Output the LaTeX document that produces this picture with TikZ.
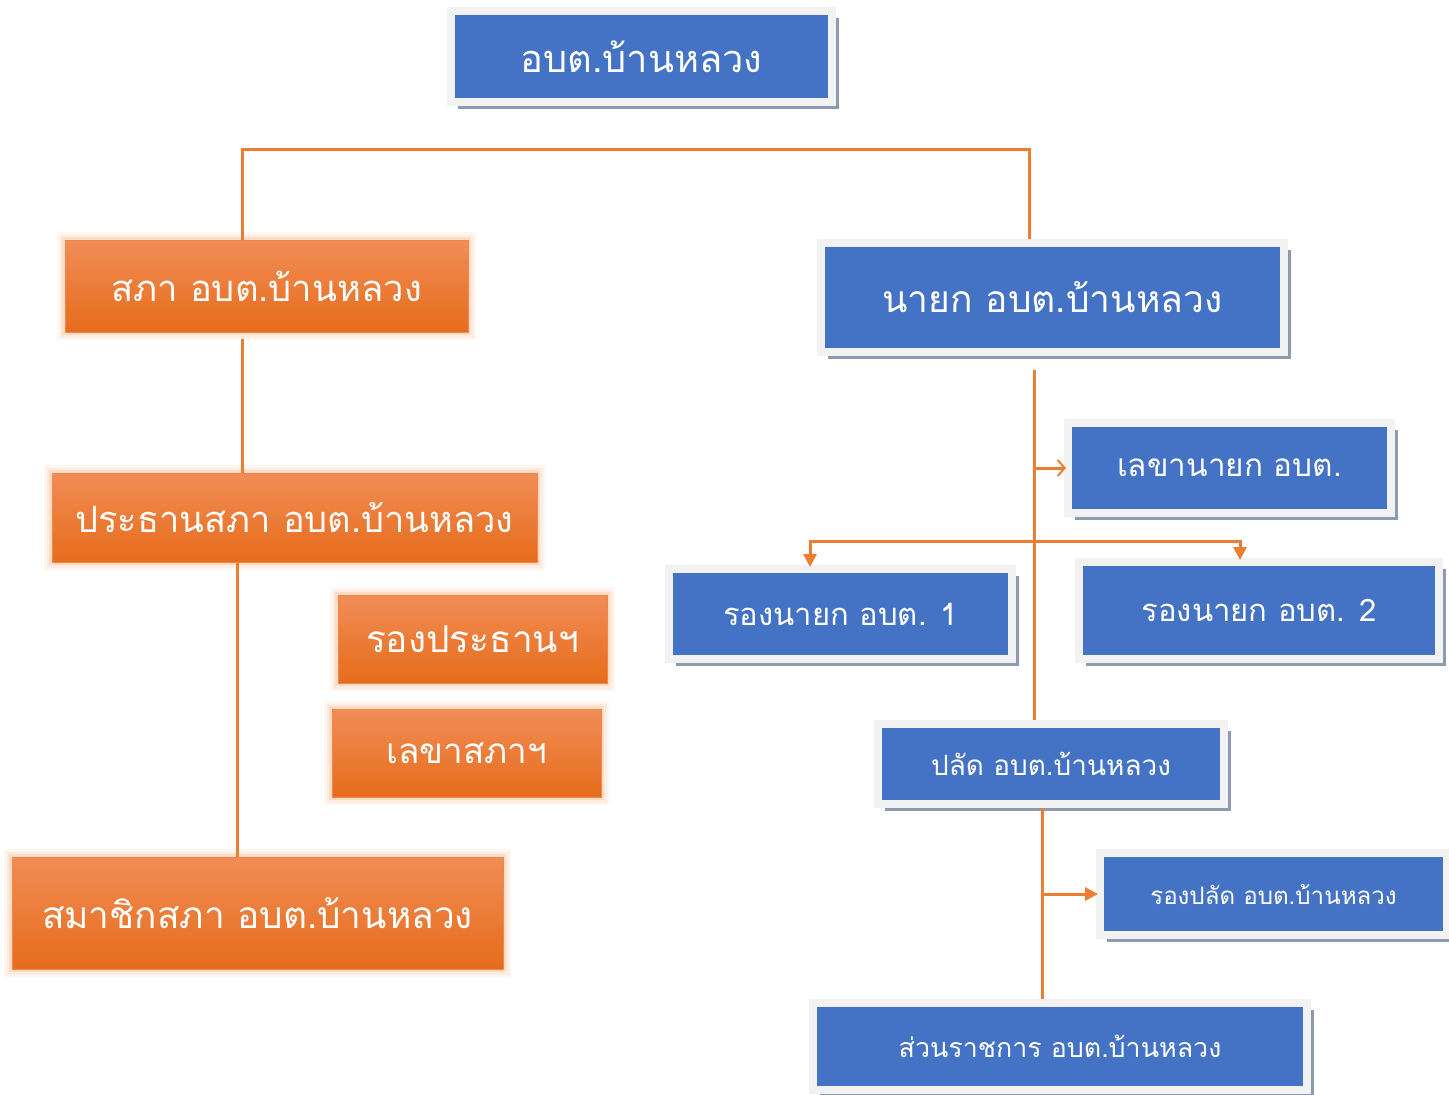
\documentclass[tikz,border=0pt]{standalone}
\usepackage{fontspec}
\newfontfamily\thaifont[Script=Thai]{Loma}
\usetikzlibrary{shadows}
\usetikzlibrary{arrows.meta}

\definecolor{boxblue}{HTML}{4472C4}
\definecolor{framegray}{HTML}{F2F2F2}
\definecolor{shadegray}{HTML}{8E9AAF}
\definecolor{lineorange}{HTML}{ED7D31}
\definecolor{orangetop}{HTML}{F18D56}
\definecolor{orangebot}{HTML}{E66C1B}
\definecolor{glow}{HTML}{F9B98C}

\tikzset{
  bluebox/.style={draw=framegray, line width=8pt, fill=boxblue, text=white,
    drop shadow={shadow xshift=7pt, shadow yshift=-7pt, fill=shadegray, opacity=1},
    inner sep=0pt, font=\thaifont},
  orangebox/.style={draw=orangetop!80!orangebot, line width=1pt,
    top color=orangetop, bottom color=orangebot, text=white,
    preaction={draw=glow, line width=16pt, opacity=0.12},
    preaction={draw=glow, line width=11pt, opacity=0.18},
    preaction={draw=glow, line width=6pt, opacity=0.3},
    inner sep=0pt, font=\thaifont},
  conn/.style={draw=lineorange, line width=3pt},
  tip/.style={-{Triangle[length=13pt,width=13pt]}},
  barb/.style={-{Straight Barb[length=7pt,width=16pt,line width=2pt]}}
}

\begin{document}
\begin{tikzpicture}[x=1pt,y=-1pt]
      \useasboundingbox (0,0) rectangle (1449,1095);

      % top
      \node[bluebox, minimum width=381pt, minimum height=91pt, font=\thaifont\fontsize{38}{40}\selectfont] (obt) at (641.5,56.5) {อบต.บ้านหลวง};

      % council side
      \node[orangebox, minimum width=403pt, minimum height=92pt, font=\thaifont\fontsize{36.4}{38}\selectfont] (sapha) at (266.5,286) {สภา อบต.บ้านหลวง};
      \node[orangebox, minimum width=485pt, minimum height=89pt, font=\thaifont\fontsize{36.2}{38}\selectfont] (prathan) at (294.5,517.5) {ประธานสภา อบต.บ้านหลวง};
      \node[orangebox, minimum width=269pt, minimum height=88pt, font=\thaifont\fontsize{37}{39}\selectfont] (rongprathan) at (472.5,639) {รองประธานฯ};
      \node[orangebox, minimum width=269pt, minimum height=88pt, font=\thaifont\fontsize{35}{37}\selectfont] (lekhasapha) at (466.5,753) {เลขาสภาฯ};
      \node[orangebox, minimum width=491pt, minimum height=112pt, font=\thaifont\fontsize{37}{39}\selectfont] (samachik) at (257.5,913) {สมาชิกสภา อบต.บ้านหลวง};

      % executive side
      \node[bluebox, minimum width=463pt, minimum height=109pt, font=\thaifont\fontsize{37.2}{39}\selectfont] (nayok) at (1052.5,297.5) {นายก อบต.บ้านหลวง};
      \node[bluebox, minimum width=323pt, minimum height=90pt, font=\thaifont\fontsize{31.5}{33}\selectfont] (lekhanayok) at (1229.5,468) {เลขานายก อบต.};
      \node[bluebox, minimum width=343pt, minimum height=90pt, font=\thaifont\fontsize{31}{33}\selectfont] (rong1) at (840.5,614) {รองนายก อบต. 1};
      \node[bluebox, minimum width=360pt, minimum height=97pt, font=\thaifont\fontsize{31}{33}\selectfont] (rong2) at (1259,610.5) {รองนายก อบต. 2};
      \node[bluebox, minimum width=346pt, minimum height=80pt, font=\thaifont\fontsize{27.9}{30}\selectfont] (palat) at (1051,764) {ปลัด อบต.บ้านหลวง};
      \node[bluebox, minimum width=347pt, minimum height=82pt, font=\thaifont\fontsize{24.1}{26}\selectfont] (rongpalat) at (1273.5,894) {รองปลัด อบต.บ้านหลวง};
      \node[bluebox, minimum width=494pt, minimum height=87pt, font=\thaifont\fontsize{26.8}{29}\selectfont] (suan) at (1060,1046.5) {ส่วนราชการ อบต.บ้านหลวง};

      % connectors
      \draw[conn] ([xshift=-24pt]sapha.north) -- ++(0,-90) -| ([xshift=-23.5pt]nayok.north);
      \draw[conn] ([xshift=-24pt,yshift=-6pt]sapha.south) -- ([xshift=-24pt]sapha.south |- prathan.north);
      \draw[conn] ([xshift=-57pt]prathan.south) -- ([xshift=-57pt]prathan.south |- samachik.north);

      \coordinate (trunk) at ([xshift=-18pt,yshift=-14pt]nayok.south);
      \draw[conn] (trunk) -- (trunk |- palat.north);
      \draw[conn,barb] (lekhanayok.west -| trunk) -- ([xshift=2pt]lekhanayok.west);
      \coordinate (bar) at (trunk |- 0,541);
      \draw[conn,tip] (bar) -| ([xshift=-30.5pt,yshift=-2pt]rong1.north);
      \draw[conn,tip] (bar) -| ([xshift=-19pt,yshift=-2pt]rong2.north);

      \coordinate (trunk2) at ([xshift=-9pt]palat.south);
      \draw[conn] (trunk2) -- (trunk2 |- suan.north);
      \draw[conn,tip] (rongpalat.west -| trunk2) -- ([xshift=2pt]rongpalat.west);
    \end{tikzpicture}
\end{document}
